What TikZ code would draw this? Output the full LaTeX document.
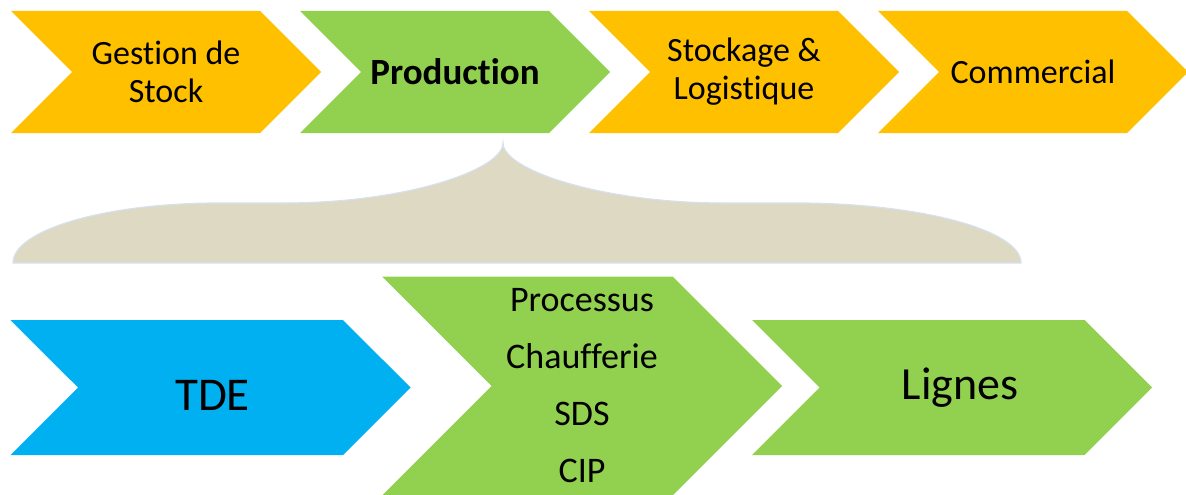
\documentclass[tikz,border=0pt]{standalone}
\usepackage{fontspec}
\setmainfont{Carlito}[Ligatures=NoCommon]
\usepackage{tikz}
\usetikzlibrary{shapes.symbols}

\definecolor{stockorange}{RGB}{255,192,0}
\definecolor{prodgreen}{RGB}{146,208,80}
\definecolor{tdeblue}{RGB}{0,176,240}
\definecolor{bracefill}{RGB}{221,217,195}
\definecolor{braceline}{RGB}{214,225,240}

\begin{document}
\begin{tikzpicture}[
    x=1pt, y=-1pt,
    chevron/.style={
        shape=signal,
        signal from=west,
        signal to=east,
        signal pointer angle=90,
        fill=#1,
        draw=none,
        inner sep=0pt,
        outer sep=0pt,
        align=center
    },
    topchev/.style={
        chevron=#1,
        minimum width=310pt,
        minimum height=122pt,
        font=\fontsize{34}{38}\selectfont
    },
    lowchev/.style={
        chevron=#1,
        minimum width=400pt,
        minimum height=135pt
    },
    biglabel/.style={
        inner sep=0pt,
        font=\fontsize{46}{54}\selectfont
    }
]
\useasboundingbox (0,0) rectangle (1186,495);

% --- Top row: value chain ---
\node[topchev=stockorange] (gestion) at (166,72) {Gestion de\\Stock};
\node[topchev=prodgreen, font=\fontsize{37}{40}\selectfont\bfseries] (production) at (455,72) {Production};
\node[topchev=stockorange] (stockage) at (744,72) {Stockage \&\\Logistique};
\node[topchev=stockorange] (commercial) at (1033,72) {Commercial};

% --- Brace under Production ---
\coordinate (bracetip) at (503,143);
\fill[bracefill, draw=braceline, line width=1.2pt]
    (13,263) .. controls (13,230) and (105,203) .. (219,203)
    -- (285,203) .. controls (405,203) and (503,170) .. (bracetip)
    .. controls (503,170) and (602,203) .. (723,203)
    -- (796,203) .. controls (920,203) and (1021,230) .. (1021,263)
    -- cycle;

% --- Bottom row: production detail ---
\node[lowchev=tdeblue] (tde) at (210.5,387.5) {};
\node[biglabel, font=\fontsize{47}{54}\selectfont] (tdetext) at ([xshift=2pt, yshift=-8pt]tde.center) {TDE};
\node[lowchev=prodgreen, minimum height=219pt,
      font=\fontsize{36}{57}\selectfont] (process) at (582,386)
    {Processus\\Chaufferie\\SDS\\CIP};
\node[lowchev=prodgreen] (lignes) at (952,387.5) {};
\node[biglabel] (lignestext) at ([xshift=8pt]lignes.center) {Lignes};

\end{tikzpicture}
\end{document}
